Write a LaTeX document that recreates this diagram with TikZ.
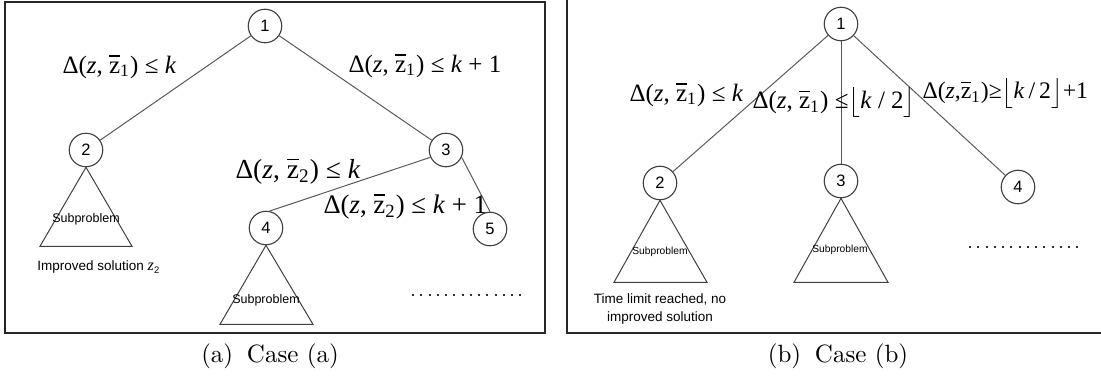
\documentclass[tikz,border=0pt]{standalone}
\usepackage{fontspec}
\newfontfamily\tnr{Liberation Serif}
\newfontfamily\arial{Liberation Sans}
\newcommand\zb{\ooalign{z\cr\hidewidth\rule[0.66em]{0.42em}{0.05em}\hidewidth\cr}}
\newcommand\dz[1]{Δ(\textit{z}, \zb\textsubscript{#1})}
\begin{document}
\begin{tikzpicture}[x=0.4pt,y=-0.4pt,
  nd/.style={circle,draw=black!75,line width=0.45pt,minimum size=13.4pt,inner sep=0pt,
    font=\arial\fontsize{6.6pt}{7pt}\selectfont},
  edge/.style={draw=black!65,line width=0.4pt},
  tri/.style={draw=black!75,line width=0.4pt},
  frame/.style={draw=black!85,line width=0.65pt},
  lab/.style={inner sep=0pt,anchor=west,font=\tnr\fontsize{10pt}{12pt}\selectfont},
  labb/.style={lab,font=\tnr\fontsize{11pt}{13pt}\selectfont},
  subA/.style={inner sep=0pt,font=\arial\fontsize{5pt}{6pt}\selectfont},
  subB/.style={inner sep=0pt,font=\arial\fontsize{4.1pt}{5pt}\selectfont},
  note/.style={inner sep=0pt,font=\arial\fontsize{5.4pt}{7.2pt}\selectfont},
  dots/.style={draw=black!80,line width=0.8pt,dash pattern=on 0.8pt off 2.5pt},
  captext/.style={inner sep=0pt,font=\fontsize{10pt}{12pt}\selectfont}
]
\useasboundingbox (0,0) rectangle (1101,376);
% ---------- panel (a) ----------
\draw[frame] (5,2) rectangle (545,333);
\node[nd] (a1) at (265,26) {1};
\node[nd] (a2) at (86,150) {2};
\node[nd] (a3) at (446,150) {3};
\node[nd] (a4) at (266,228) {4};
\node[nd] (a5) at (490,229) {5};
\draw[edge] (a1) -- (a2);
\draw[edge] (a1) -- (a3);
\draw[edge] (a3.205) -- (a4.78);
\draw[edge] (a3.-25) -- (a5.north);
\draw[tri] (a2.south) -- ++(-46,79) -- ++(92,0) -- cycle;
\draw[tri] (a4.south) -- ++(-46,79) -- ++(93,0) -- cycle;
\node[subA] (sa2) at (86,219) {Subproblem};
\node[subA] (sa4) at (266,300) {Subproblem};
\node[note] (imp) at (99,267) {Improved solution {\tnr\itshape\fontsize{6.5pt}{7pt}\selectfont z}\textsubscript{2}};
\node[lab] (la1) at (62,67) {\dz{1} ≤ \textit{k}};
\node[lab] (la2) at (348,66) {\dz{1} ≤ \textit{k} + 1};
\node[labb] (la3) at (235,172) {\dz{2} ≤ \textit{k}};
\node[lab,font=\tnr\fontsize{10.7pt}{13pt}\selectfont] (la4) at (323,207) {\dz{2} ≤ \textit{k} + 1};
\coordinate (da0) at (412,295);
\coordinate (da1) at (527,295);
\draw[dots] (da0) -- (da1);
\node[captext] (capa) at (270,356) {(a)\hspace{0.55em}Case (a)};
% ---------- panel (b) ----------
\draw[frame] (567,0) -- (567,333) -- (1101,333);
\node[nd] (b1) at (841,24) {1};
\node[nd] (b2) at (660,183) {2};
\node[nd] (b3) at (841,181) {3};
\node[nd] (b4) at (1018,187) {4};
\draw[edge] (b1) -- (b2);
\draw[edge] (b1) -- (b3);
\draw[edge] (b1) -- (b4);
\draw[tri] (b2.south) -- ++(-46,82) -- ++(93,0) -- cycle;
\draw[tri] (b3.south) -- ++(-47,84) -- ++(94,0) -- cycle;
\node[subB] (sb2) at (660,252) {Subproblem};
\node[subB] (sb3) at (840,250) {Subproblem};
\node[note,align=center] (tl) at (660,309) {Time limit reached, no\\improved solution};
\node[lab] (lb1) at (629,95) {\dz{1} ≤ \textit{k}};
\node[lab] (lb2) at (752,102) {\dz{1} ≤$\bigl\lfloor$\textit{k} / 2$\bigr\rfloor$};
\node[lab,font=\tnr\fontsize{9.5pt}{12pt}\selectfont] (lb3) at (922,93) {Δ(\textit{z},\zb\textsubscript{1})≥$\bigl\lfloor$\textit{k}\,/\,2$\bigr\rfloor$+1};
\coordinate (db0) at (969,247);
\coordinate (db1) at (1084,247);
\draw[dots] (db0) -- (db1);
\node[captext] (capb) at (838,356) {(b)\hspace{0.55em}Case (b)};
\end{tikzpicture}
\end{document}
